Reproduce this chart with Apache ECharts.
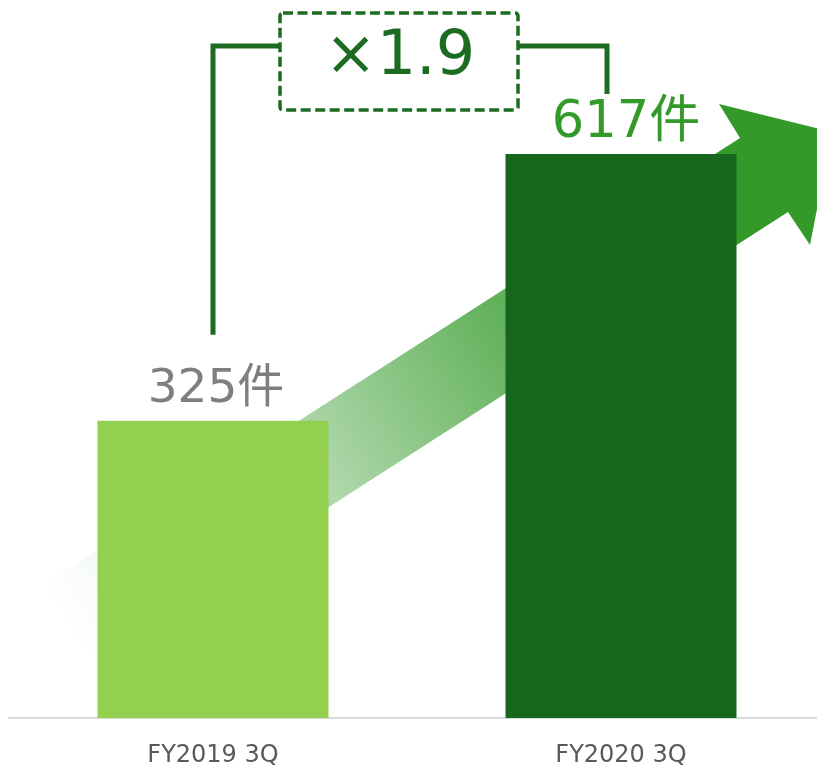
<!DOCTYPE html>
<html>
<head>
<meta charset="utf-8">
<script src="https://cdn.jsdelivr.net/npm/echarts@6/dist/echarts.min.js"></script>
<style>
  html, body { margin: 0; padding: 0; background: #ffffff; }
  #chart { width: 817px; height: 765px; }
</style>
</head>
<body>
<div id="chart"></div>
<script>
// Quarterly counts
const categories = ['FY2019 3Q', 'FY2020 3Q'];
const counts = [325, 617];
const barColors = ['#92d050', '#17661e'];
const labelColors = ['#7f7f7f', '#339a29'];
const unit = '件';
const growthText = '×1.9';

const FONT = '"DejaVu Sans", "Noto Sans CJK JP", sans-serif';
const BRACKET = '#1b6b21';
const ARROW = '51,154,41';

const chart = echarts.init(document.getElementById('chart'), null, { renderer: 'canvas' });

// Rising arrow behind the bars, anchored to the two bar tops
function renderArrow(params, api) {
  const a = api.coord([0, counts[0]]);
  const b = api.coord([1, counts[1]]);
  const pts = [
    [a[0] - 173, a[1] + 166],
    [b[0] + 119, b[1] - 16],
    [b[0] + 98, b[1] - 50],
    [b[0] + 211, b[1] - 22],
    [b[0] + 189, b[1] + 91],
    [b[0] + 167, b[1] + 58],
    [a[0] - 125, a[1] + 241]
  ];
  const g0 = [a[0] - 149, a[1] + 203];
  const g1 = [b[0] + 143, b[1] + 21];
  return {
    type: 'polygon',
    shape: { points: pts },
    style: {
      fill: new echarts.graphic.LinearGradient(g0[0], g0[1], g1[0], g1[1], [
        { offset: 0, color: 'rgba(' + ARROW + ',0)' },
        { offset: 0.12, color: 'rgba(' + ARROW + ',0.07)' },
        { offset: 0.38, color: 'rgba(' + ARROW + ',0.42)' },
        { offset: 0.62, color: 'rgba(' + ARROW + ',0.74)' },
        { offset: 0.88, color: 'rgba(' + ARROW + ',1)' },
        { offset: 1, color: 'rgba(' + ARROW + ',1)' }
      ], true)
    }
  };
}

// Bracket joining the two bars with the growth ratio box
function renderBracket(params, api) {
  const a = api.coord([0, counts[0]]);
  const b = api.coord([1, counts[1]]);
  const top = b[1] - 108;
  const boxL = a[0] + 67, boxR = b[0] - 103;
  const boxT = b[1] - 141, boxB = b[1] - 44;
  const rightX = b[0] - 14;
  return {
    type: 'group',
    children: [
      {
        type: 'polyline',
        shape: { points: [[a[0], a[1] - 86], [a[0], top], [boxL, top]] },
        style: { stroke: BRACKET, lineWidth: 5, fill: null, lineJoin: 'miter' }
      },
      {
        type: 'polyline',
        shape: { points: [[boxR, top], [rightX, top], [rightX, b[1] - 60]] },
        style: { stroke: BRACKET, lineWidth: 5, fill: null, lineJoin: 'miter' }
      },
      {
        type: 'rect',
        shape: { x: boxL, y: boxT, width: boxR - boxL, height: boxB - boxT, r: 3 },
        style: { stroke: BRACKET, lineWidth: 3.5, fill: '#ffffff', lineDash: [10, 4.5] }
      },
      {
        type: 'text',
        x: (boxL + boxR) / 2 + 1,
        y: (boxT + boxB) / 2 - 3,
        style: {
          text: growthText,
          fill: BRACKET,
          font: '62px ' + FONT,
          align: 'center',
          verticalAlign: 'middle'
        }
      }
    ]
  };
}

const labelSizes = [47, 51];
const labelDistances = [8, 5];
const labelOffsets = [3, 5];

const option = {
  backgroundColor: '#ffffff',
  animation: false,
  grid: { left: 9, right: -8, top: 78, bottom: 47, containLabel: false, outerBoundsMode: 'none' },
  xAxis: {
    type: 'category',
    data: categories,
    axisLine: { show: true, lineStyle: { color: '#d9d9d9', width: 2 } },
    axisTick: { show: false },
    axisLabel: { color: '#595959', fontSize: 24, fontFamily: FONT, margin: 26 }
  },
  yAxis: {
    type: 'value',
    min: 0,
    max: 700,
    show: false,
    splitLine: { show: false }
  },
  series: [
    {
      type: 'custom',
      z: 1,
      renderItem: renderArrow,
      data: [0],
      silent: true
    },
    {
      type: 'bar',
      z: 2,
      barWidth: 231,
      data: counts.map((v, i) => ({
        value: v,
        itemStyle: { color: barColors[i] },
        label: {
          show: true,
          position: 'top',
          distance: labelDistances[i],
          offset: [labelOffsets[i], 0],
          color: labelColors[i],
          fontSize: labelSizes[i],
          fontFamily: FONT,
          formatter: '{c}' + unit
        }
      }))
    },
    {
      type: 'custom',
      z: 3,
      renderItem: renderBracket,
      data: [0],
      silent: true
    }
  ]
};

chart.setOption(option);
</script>
</body>
</html>
